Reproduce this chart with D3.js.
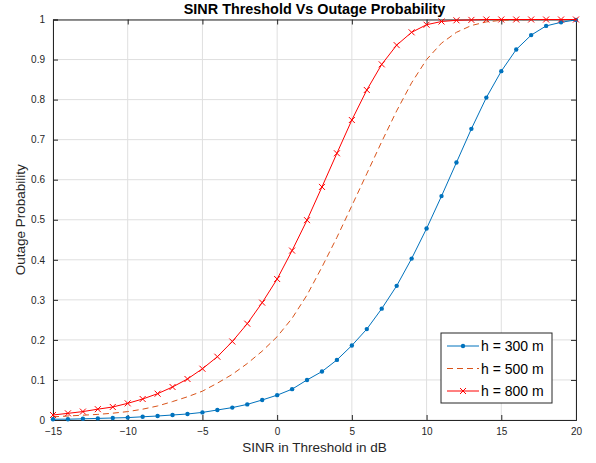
<!DOCTYPE html>
<html>
<head>
<meta charset="utf-8">
<script src="https://cdn.jsdelivr.net/npm/d3@7"></script>
<style>
  body { margin: 0; background: #fff; }
  svg { font-family: 'Liberation Sans', Arial, sans-serif; }
</style>
</head>
<body>
<svg width="596" height="463"></svg>
<script>
const titleText = 'SINR Threshold Vs Outage Probability';
const xAxisLabelText = 'SINR in Threshold in dB';
const yAxisLabelText = 'Outage Probability';

const sinr = d3.range(-15, 21);

const h300 = [0.002, 0.002, 0.003, 0.004, 0.005, 0.006, 0.008, 0.010, 0.0125, 0.015,
  0.019, 0.025, 0.031, 0.039, 0.050, 0.062, 0.077, 0.100, 0.121, 0.150,
  0.186, 0.227, 0.278, 0.335, 0.403, 0.478, 0.559, 0.643, 0.727, 0.805,
  0.871, 0.925, 0.961, 0.984, 0.993, 0.999];

const h500 = [0.008, 0.010, 0.012, 0.014, 0.017, 0.021, 0.027, 0.035, 0.046, 0.058,
  0.072, 0.092, 0.114, 0.141, 0.172, 0.208, 0.254, 0.312, 0.382, 0.456,
  0.535, 0.615, 0.695, 0.772, 0.842, 0.900, 0.941, 0.968, 0.985, 0.994,
  0.998, 0.999, 1.0, 1.0, 1.0, 1.0];

const h800 = [0.0125, 0.0166, 0.021, 0.027, 0.0325, 0.0416, 0.0524, 0.0657, 0.0824, 0.1024,
  0.128, 0.158, 0.196, 0.2405, 0.293, 0.352, 0.423, 0.499, 0.582, 0.666,
  0.749, 0.824, 0.888, 0.936, 0.968, 0.987, 0.995, 0.998, 0.999, 1.0,
  1.0, 1.0, 1.0, 1.0, 1.0, 1.0];

const xTicks = [-15, -10, -5, 0, 5, 10, 15, 20];
const yTicks = [0, 0.1, 0.2, 0.3, 0.4, 0.5, 0.6, 0.7, 0.8, 0.9, 1];

const seriesNames = ['h = 300 m', 'h = 500 m', 'h = 800 m'];
const seriesColors = ['#0072BD', '#D95319', '#FF0000'];

const svg = d3.select('svg');
const width = +svg.attr('width');
const height = +svg.attr('height');
const margin = { top: 19.5, right: 20, bottom: 43, left: 53 };
const innerWidth = width - margin.left - margin.right;
const innerHeight = height - margin.top - margin.bottom;

const xScale = d3.scaleLinear().domain([-15, 20]).range([0, innerWidth]);
const yScale = d3.scaleLinear().domain([0, 1]).range([innerHeight, 0]);

const g = svg.append('g')
  .attr('transform', `translate(${margin.left},${margin.top})`);

// Grid
g.append('g')
  .selectAll('line').data(xTicks)
  .enter().append('line')
  .attr('x1', d => xScale(d)).attr('x2', d => xScale(d))
  .attr('y1', 0).attr('y2', innerHeight)
  .attr('stroke', '#dfdfdf').attr('stroke-width', 1);

g.append('g')
  .selectAll('line').data(yTicks)
  .enter().append('line')
  .attr('x1', 0).attr('x2', innerWidth)
  .attr('y1', d => yScale(d)).attr('y2', d => yScale(d))
  .attr('stroke', '#dfdfdf').attr('stroke-width', 1);

// Axes (ticks inside, box on)
const tickColor = '#262626';
const xAxisG = g.append('g')
  .attr('transform', `translate(0,${innerHeight})`)
  .call(d3.axisBottom(xScale).tickValues(xTicks).tickSize(-5).tickPadding(8));
const xTopG = g.append('g')
  .call(d3.axisTop(xScale).tickValues(xTicks).tickSize(-5));
const yAxisG = g.append('g')
  .call(d3.axisLeft(yScale).tickValues(yTicks).tickSize(-5).tickPadding(8)
    .tickFormat(d => d === 0 || d === 1 ? d3.format('d')(d) : d3.format('.1f')(d)));
const yRightG = g.append('g')
  .attr('transform', `translate(${innerWidth},0)`)
  .call(d3.axisRight(yScale).tickValues(yTicks).tickSize(-5));

xTopG.selectAll('.tick text').remove();
yRightG.selectAll('.tick text').remove();

[xAxisG, xTopG, yAxisG, yRightG].forEach(a => {
  a.select('.domain').attr('stroke', tickColor).attr('stroke-width', 1);
  a.selectAll('.tick line').attr('stroke', tickColor);
  a.selectAll('.tick text').attr('fill', tickColor).attr('font-size', 10);
});

// Lines
const lineGen = vals => d3.line()
  .x((d, i) => xScale(sinr[i]))
  .y(d => yScale(d))(vals);

g.append('path')
  .attr('d', lineGen(h500))
  .attr('fill', 'none')
  .attr('stroke', seriesColors[1])
  .attr('stroke-width', 1)
  .attr('stroke-dasharray', '6,4');

g.append('path')
  .attr('d', lineGen(h300))
  .attr('fill', 'none')
  .attr('stroke', seriesColors[0])
  .attr('stroke-width', 1);

g.selectAll('.dot').data(h300)
  .enter().append('circle')
  .attr('class', 'dot')
  .attr('cx', (d, i) => xScale(sinr[i]))
  .attr('cy', d => yScale(d))
  .attr('r', 2.2)
  .attr('fill', seriesColors[0]);

g.append('path')
  .attr('d', lineGen(h800))
  .attr('fill', 'none')
  .attr('stroke', seriesColors[2])
  .attr('stroke-width', 1);

const cross = (sel, s) => sel
  .attr('d', `M${-s},${-s}L${s},${s}M${-s},${s}L${s},${-s}`)
  .attr('stroke', seriesColors[2])
  .attr('stroke-width', 1)
  .attr('fill', 'none');

g.selectAll('.cross').data(h800)
  .enter().append('path')
  .attr('class', 'cross')
  .attr('transform', (d, i) => `translate(${xScale(sinr[i])},${yScale(d)})`)
  .call(cross, 3);

// Title and labels
svg.append('text')
  .attr('x', margin.left + innerWidth / 2)
  .attr('y', 14)
  .attr('text-anchor', 'middle')
  .attr('font-size', 14.4)
  .attr('font-weight', 'bold')
  .attr('fill', '#000')
  .text(titleText);

svg.append('text')
  .attr('x', margin.left + innerWidth / 2)
  .attr('y', 452)
  .attr('text-anchor', 'middle')
  .attr('font-size', 13.5)
  .attr('fill', tickColor)
  .text(xAxisLabelText);

svg.append('text')
  .attr('transform', `translate(25,${margin.top + innerHeight / 2}) rotate(-90)`)
  .attr('text-anchor', 'middle')
  .attr('font-size', 13.5)
  .attr('fill', tickColor)
  .text(yAxisLabelText);

// Legend
const legend = svg.append('g').attr('transform', 'translate(441,333)');
legend.append('rect')
  .attr('width', 111).attr('height', 70)
  .attr('fill', '#fff').attr('stroke', tickColor).attr('stroke-width', 1);

seriesNames.forEach((name, i) => {
  const y = 13 + i * 22.5;
  const row = legend.append('g').attr('transform', `translate(0,${y})`);
  row.append('line')
    .attr('x1', 6).attr('x2', 38).attr('y1', 0).attr('y2', 0)
    .attr('stroke', seriesColors[i]).attr('stroke-width', 1)
    .attr('stroke-dasharray', i === 1 ? '6,4' : null);
  if (i === 0) {
    row.append('circle').attr('cx', 22).attr('cy', 0).attr('r', 2.2).attr('fill', seriesColors[0]);
  }
  if (i === 2) {
    row.append('path').attr('transform', 'translate(22,0)').call(cross, 3);
  }
  row.append('text')
    .attr('x', 40).attr('y', 5)
    .attr('font-size', 14)
    .attr('fill', '#000')
    .text(name);
});
</script>
</body>
</html>
